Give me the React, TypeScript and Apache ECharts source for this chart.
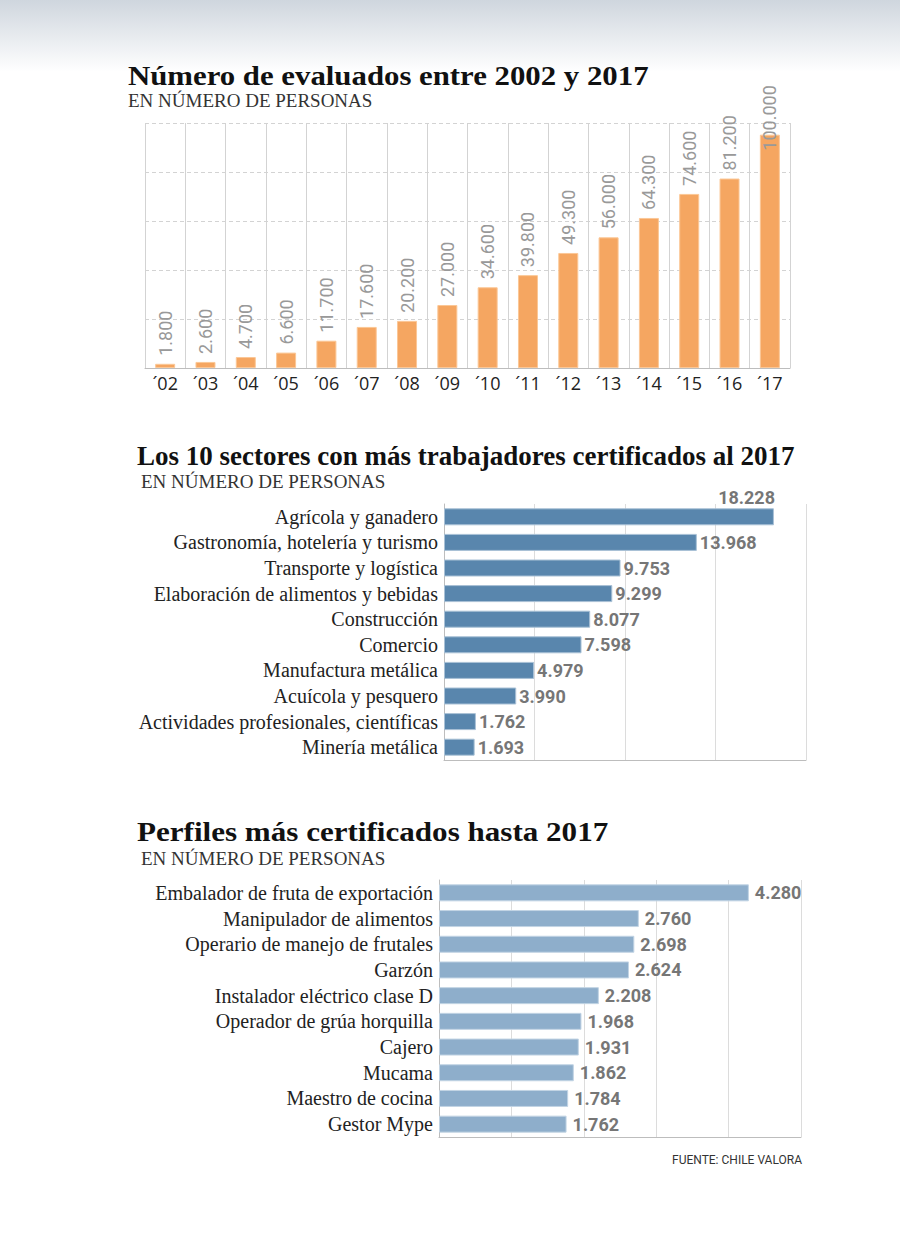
import React, { useEffect, useRef } from "react";
import * as echarts from "echarts";

const years = ["´02", "´03", "´04", "´05", "´06", "´07", "´08", "´09", "´10", "´11", "´12", "´13", "´14", "´15", "´16", "´17"];
const evaluated = [1800, 2600, 4700, 6600, 11700, 17600, 20200, 27000, 34600, 39800, 49300, 56000, 64300, 74600, 81200, 100000];

const sectors = [
  "Agrícola y ganadero",
  "Gastronomía, hotelería y turismo",
  "Transporte y logística",
  "Elaboración de alimentos y bebidas",
  "Construcción",
  "Comercio",
  "Manufactura metálica",
  "Acuícola y pesquero",
  "Actividades profesionales, científicas",
  "Minería metálica",
];
const sectorValues = [18228, 13968, 9753, 9299, 8077, 7598, 4979, 3990, 1762, 1693];

const profiles = [
  "Embalador de fruta de exportación",
  "Manipulador de alimentos",
  "Operario de manejo de frutales",
  "Garzón",
  "Instalador eléctrico clase D",
  "Operador de grúa horquilla",
  "Cajero",
  "Mucama",
  "Maestro de cocina",
  "Gestor Mype",
];
const profileValues = [4280, 2760, 2698, 2624, 2208, 1968, 1931, 1862, 1784, 1762];

const titles = [
  "Número de evaluados entre 2002 y 2017",
  "Los 10 sectores con más trabajadores certificados al 2017",
  "Perfiles más certificados hasta 2017",
];
const subtitle = "EN NÚMERO DE PERSONAS";
const source = "FUENTE: CHILE VALORA";

const fmt = (v: number) => String(v).replace(/\B(?=(\d{3})+(?!\d))/g, ".");

const SERIF = "'Liberation Serif', 'DejaVu Serif', serif";
const SANS = "Roboto, 'Open Sans', sans-serif";

export default function App() {
  const ref = useRef<HTMLDivElement>(null);
  useEffect(() => {
    document.body.style.margin = "0";
    const chart = echarts.init(ref.current!, null, { renderer: "svg" });

    const titleStyle = (text: string, x: number, y: number, size: number, sx: number) => ({
      type: "text",
      x,
      y,
      scaleX: sx,
      style: {
        text,
        fontFamily: SERIF,
        fontWeight: "bold",
        fontSize: size,
        fill: "#111",
        textVerticalAlign: "middle",
      },
    });
    const subStyle = (x: number, y: number) => ({
      type: "text",
      x,
      y,
      style: {
        text: subtitle,
        fontFamily: SERIF,
        fontSize: 19,
        fill: "#333",
        textVerticalAlign: "middle",
      },
    });

    const catAxisH = (gridIndex: number, data: string[]) => ({
      type: "category",
      gridIndex,
      data,
      inverse: true,
      axisLine: { show: true, lineStyle: { color: "#bdbdbd", width: 1 } },
      axisTick: { show: false },
      axisLabel: { fontFamily: SERIF, fontSize: 20, color: "#222", margin: 6, interval: 0 },
      splitLine: { show: false },
    });
    const valAxisH = (gridIndex: number, max: number, interval: number) => ({
      type: "value",
      gridIndex,
      min: 0,
      max,
      interval,
      axisLine: { show: true, lineStyle: { color: "#bdbdbd", width: 1 } },
      axisTick: { show: false },
      axisLabel: { show: false },
      splitLine: { show: true, lineStyle: { color: "#dcdcdc", width: 1, type: "solid" } },
    });
    const hLabel = {
      show: true,
      position: "right",
      distance: 3,
      fontFamily: SANS,
      fontWeight: "bold",
      fontSize: 18,
      color: "#767676",
      formatter: (p: any) => fmt(p.value),
    };

    const option: any = {
      animation: false,
      graphic: [
        {
          type: "rect",
          z: -10,
          shape: { x: 0, y: 0, width: 900, height: 72 },
          style: {
            fill: new echarts.graphic.LinearGradient(0, 0, 0, 1, [
              { offset: 0, color: "#cfd6de" },
              { offset: 1, color: "#ffffff" },
            ]),
          },
        },
        titleStyle(titles[0], 128, 75, 28, 1.1),
        subStyle(128, 100),
        titleStyle(titles[1], 137, 456, 27, 1),
        subStyle(141, 481),
        titleStyle(titles[2], 137, 832, 28, 1.11),
        subStyle(141, 858),
        {
          type: "text",
          x: 802,
          y: 1160,
          style: {
            text: source,
            fontFamily: SANS,
            fontSize: 12,
            fill: "#333",
            textAlign: "right",
            textVerticalAlign: "middle",
          },
        },
      ],
      grid: [
        { left: 145, top: 123, width: 645, height: 245, containLabel: false },
        { left: 444, top: 504, width: 362, height: 256, containLabel: false },
        { left: 439, top: 880, width: 362, height: 257, containLabel: false },
      ],
      xAxis: [
        {
          type: "category",
          gridIndex: 0,
          data: years,
          axisLine: { show: true, lineStyle: { color: "#bdbdbd", width: 1 } },
          axisTick: { show: false },
          axisLabel: { fontFamily: "'Open Sans', sans-serif", fontSize: 18, color: "#222", margin: 6, interval: 0 },
          splitLine: { show: true, interval: 0, lineStyle: { color: "#d3d3d3", width: 1 } },
        },
        valAxisH(1, 20000, 5000),
        valAxisH(2, 5000, 1000),
      ],
      yAxis: [
        {
          type: "value",
          gridIndex: 0,
          min: 0,
          max: 105000,
          interval: 21000,
          axisLine: { show: false },
          axisTick: { show: false },
          axisLabel: { show: false },
          splitLine: { show: true, lineStyle: { color: "#d3d3d3", width: 1, type: [4, 3] } },
        },
        catAxisH(1, sectors),
        catAxisH(2, profiles),
      ],
      series: [
        {
          type: "bar",
          xAxisIndex: 0,
          yAxisIndex: 0,
          barWidth: 20,
          data: evaluated.map((v, i) =>
            i === evaluated.length - 1 ? { value: v, label: { distance: -16 } } : v
          ),
          itemStyle: { color: "#f5a661", borderColor: "#fbc796", borderWidth: 1 },
          label: {
            show: true,
            position: "top",
            rotate: 90,
            align: "left",
            verticalAlign: "middle",
            distance: 8,
            fontFamily: SANS,
            fontSize: 18,
            color: "#999999",
            formatter: (p: any) => fmt(p.value),
          },
        },
        {
          type: "bar",
          xAxisIndex: 1,
          yAxisIndex: 1,
          barWidth: 17,
          data: sectorValues.map((v, i) =>
            i === 0
              ? { value: v, label: { position: [331, -2], align: "right", verticalAlign: "bottom" } }
              : v
          ),
          itemStyle: { color: "#5986ad", borderColor: "#a9c1d6", borderWidth: 1 },
          label: hLabel,
        },
        {
          type: "bar",
          xAxisIndex: 2,
          yAxisIndex: 2,
          barWidth: 17,
          data: profileValues,
          itemStyle: { color: "#8eaecb", borderColor: "#c2d4e4", borderWidth: 1 },
          label: { ...hLabel, distance: 6 },
        },
      ],
    };
    chart.setOption(option);
    return () => chart.dispose();
  }, []);
  return <div ref={ref} style={{ width: 900, height: 1236 }} />;
}
